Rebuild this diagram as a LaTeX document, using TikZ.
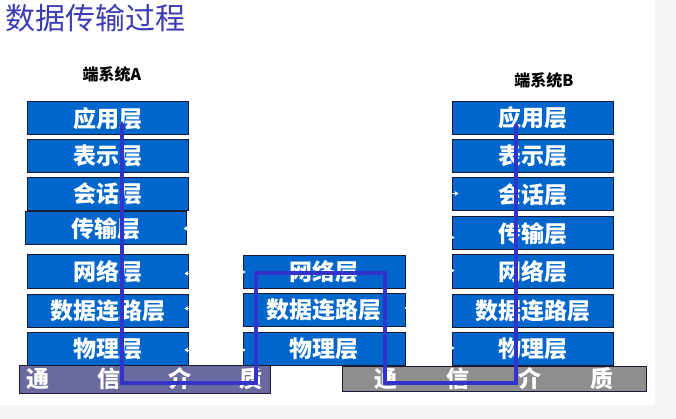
\documentclass[tikz,border=0pt]{standalone}
\usepackage{fontspec}
\usepackage{xcolor}
\usetikzlibrary{arrows.meta}
\newfontfamily\cjk{Noto Sans CJK SC}
\definecolor{layerblue}{HTML}{0066CC}
\definecolor{layeredge}{HTML}{1A1A33}
\definecolor{titleblue}{HTML}{3C3CB4}
\definecolor{pathblue}{HTML}{3333CC}
\definecolor{mediumA}{HTML}{6A6A9E}
\definecolor{mediumB}{HTML}{8E8E8E}
\definecolor{pagegray}{HTML}{F4F4F4}

\begin{document}
\begin{tikzpicture}[x=1pt, y=-1pt, >=Stealth,
                    every node/.style={font=\cjk},
                    layer/.style={draw=layeredge, line width=1pt, fill=layerblue,
                                  text=white, minimum height=33pt, inner sep=0pt,
                                  font=\cjk\bfseries\fontsize{23}{23}\selectfont},
                    medium/.style={draw=layeredge, line width=1pt, text=white,
                                   inner sep=0pt,
                                   font=\cjk\bfseries\fontsize{23}{23}\selectfont},
                    peertip/.style={white, line width=1pt,
                                    -{Stealth[length=4pt, width=5pt]}},
                    route/.style={pathblue, line width=3.5pt, line join=miter,
                                  {Stealth[length=6pt, width=7pt]}-{Stealth[length=6pt, width=7pt]}}]

%% ==== 底色 ==========================================================
\fill[white] (0,0) rectangle (676,419);
\fill[pagegray] (0,405) rectangle (676,419);
\fill[pagegray] (655,0) rectangle (676,419);
\useasboundingbox (0,0) rectangle (676,419);

%% 標題
\node[anchor=west, text=titleblue, font=\cjk\fontsize{30}{30}\selectfont]
  (title) at (2,18) {数据传输过程};

%% ==== 端系统A: 七層 ==================================================
\node[font=\cjk\bfseries\fontsize{16}{16}\selectfont] (sysA) at (112,74) {端系统A};

\node[layer, minimum width=161pt] (aApp)   at (107.5,118.5) {应用层};
\node[layer, minimum width=161pt] (aPres)  at (107.5,156)   {表示层};
\node[layer, minimum width=161pt] (aSess)  at (107.5,194)   {会话层};
\node[layer, minimum width=161pt] (aTrans) at (105.5,228.5) {传输层};
\node[layer, minimum width=161pt] (aNet)   at (107.5,271.5) {网络层};
\node[layer, minimum width=161pt] (aLink)  at (107.5,310.5) {数据连路层};
\node[layer, minimum width=161pt] (aPhy)   at (107.5,349)   {物理层};

%% ==== 中間的中繼節點: 下三層 ==========================================
\node[layer, minimum width=162pt] (mNet)  at (324,272)   {网络层};
\node[layer, minimum width=162pt] (mLink) at (324,310)   {数据连路层};
\node[layer, minimum width=162pt] (mPhy)  at (324,349)   {物理层};

%% ==== 端系统B: 七層 ==================================================
\node[font=\cjk\bfseries\fontsize{16}{16}\selectfont] (sysB) at (544,80) {端系统B};

\node[layer, minimum width=161pt] (bApp)   at (532.5,118)   {应用层};
\node[layer, minimum width=161pt] (bPres)  at (532.5,156)   {表示层};
\node[layer, minimum width=161pt] (bSess)  at (532.5,194.5) {会话层};
\node[layer, minimum width=161pt] (bTrans) at (532.5,233.5) {传输层};
\node[layer, minimum width=161pt] (bNet)   at (532.5,271.5) {网络层};
\node[layer, minimum width=161pt] (bLink)  at (532.5,310.5) {数据连路层};
\node[layer, minimum width=161pt] (bPhy)   at (532.5,349)   {物理层};

%% ==== 通信介质 =======================================================
\node[medium, fill=mediumA, minimum width=251pt, minimum height=28pt]
  (medA) at (144.5,379) {通\hspace{48pt}信\hspace{48pt}介\hspace{48pt}质};
\node[medium, fill=mediumB, minimum width=304pt, minimum height=25pt]
  (medB) at (494,378.5) {通\hspace{49pt}信\hspace{49pt}介\hspace{49pt}质};

%% 對等層之間的小箭頭 (只露出箭尖)
\draw[peertip] ([xshift=4pt]aTrans.east) -- ([xshift=-3pt]aTrans.east);
\draw[peertip] ([xshift=4pt,yshift=-2pt]aNet.east) -- ([xshift=-4pt,yshift=-2pt]aNet.east);
\draw[peertip] ([xshift=4pt,yshift=2pt]aLink.east) -- ([xshift=-4pt,yshift=2pt]aLink.east);
\draw[peertip] ([xshift=4pt,yshift=-1pt]aPhy.east) -- ([xshift=-4pt,yshift=-1pt]aPhy.east);
\draw[peertip] ([xshift=-4pt]mNet.west) -- ([xshift=3pt]mNet.west);
\draw[peertip] ([xshift=-4pt,yshift=-1pt]mPhy.west) -- ([xshift=3pt,yshift=-1pt]mPhy.west);
\draw[peertip] ([xshift=4pt,yshift=2pt]mLink.east) -- ([xshift=-1pt,yshift=2pt]mLink.east);
\draw[peertip] ([xshift=-4pt,yshift=1pt]bSess.west) -- ([xshift=7pt,yshift=1pt]bSess.west);
\draw[peertip] ([xshift=-4pt,yshift=-4pt]bTrans.west) -- ([xshift=3pt,yshift=-4pt]bTrans.west);
\draw[peertip] ([xshift=-4pt,yshift=1pt]bNet.west) -- ([xshift=3pt,yshift=1pt]bNet.west);
\draw[peertip] ([xshift=-4pt,yshift=1pt]bPhy.west) -- ([xshift=3pt,yshift=1pt]bPhy.west);

%% ==== 資料走的路徑 ===================================================
\coordinate (upA)   at (122,121);
\coordinate (downA) at (122,383);
\coordinate (inM)   at (256,383);
\coordinate (topM)  at (256,273);
\coordinate (topM2) at (385,273);
\coordinate (outM)  at (385,383);
\coordinate (downB) at (516,383);
\coordinate (upB)   at (516,122);

\draw[route] (upA) -- (downA) -- (inM) -- (topM) -- (topM2) -- (outM) -- (downB) -- (upB);

\end{tikzpicture}
\end{document}
